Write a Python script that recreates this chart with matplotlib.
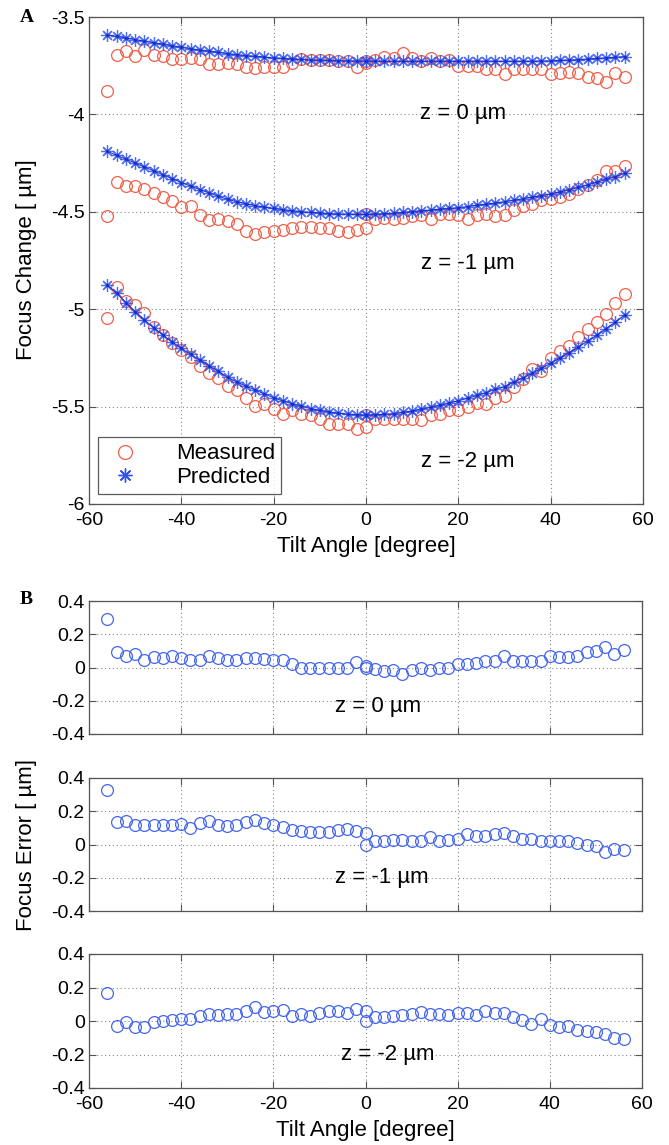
import matplotlib
matplotlib.use("Agg")
import matplotlib.pyplot as plt

plt.rcParams['font.family'] = ['Liberation Sans', 'DejaVu Sans']
plt.rcParams['axes.unicode_minus'] = False

# Tilt angles (deg); the 0 deg position was measured twice
tilt = [-56, -54, -52, -50, -48, -46, -44, -42, -40, -38, -36, -34, -32, -30,
        -28, -26, -24, -22, -20, -18, -16, -14, -12, -10, -8, -6, -4, -2,
        0, 0, 2, 4, 6, 8, 10, 12, 14, 16, 18, 20, 22, 24, 26, 28,
        30, 32, 34, 36, 38, 40, 42, 44, 46, 48, 50, 52, 54, 56]

# Panel A: measured / predicted focus change (um)
meas_z0 = [-3.882, -3.693, -3.675, -3.699, -3.670, -3.695, -3.699, -3.715, -3.715, -3.709,
           -3.716, -3.743, -3.741, -3.734, -3.739, -3.757, -3.761, -3.759, -3.756, -3.759,
           -3.738, -3.718, -3.720, -3.722, -3.723, -3.724, -3.725, -3.758,
           -3.726, -3.736, -3.719, -3.705, -3.709, -3.685, -3.709, -3.727, -3.709, -3.727,
           -3.723, -3.749, -3.749, -3.753, -3.769, -3.769, -3.794, -3.769, -3.765, -3.765,
           -3.768, -3.792, -3.786, -3.784, -3.786, -3.809, -3.812, -3.833, -3.790, -3.810]
pred_z0 = [-3.592, -3.600, -3.608, -3.616, -3.624, -3.632, -3.640, -3.648, -3.656, -3.663,
           -3.670, -3.676, -3.682, -3.688, -3.693, -3.698, -3.702, -3.706, -3.710, -3.713,
           -3.716, -3.718, -3.720, -3.722, -3.723, -3.724, -3.725, -3.726,
           -3.726, -3.726, -3.727, -3.727, -3.727, -3.727, -3.727, -3.727, -3.727, -3.727,
           -3.727, -3.727, -3.727, -3.727, -3.727, -3.727, -3.727, -3.727, -3.727, -3.727,
           -3.726, -3.725, -3.723, -3.721, -3.719, -3.716, -3.713, -3.710, -3.707, -3.703]

meas_z1 = [-4.520, -4.345, -4.370, -4.365, -4.385, -4.405, -4.425, -4.447, -4.475, -4.468,
           -4.516, -4.543, -4.537, -4.545, -4.565, -4.596, -4.615, -4.606, -4.600, -4.594,
           -4.584, -4.579, -4.579, -4.582, -4.585, -4.601, -4.606, -4.593,
           -4.583, -4.513, -4.536, -4.534, -4.535, -4.531, -4.523, -4.515, -4.539, -4.511,
           -4.511, -4.515, -4.537, -4.517, -4.511, -4.519, -4.518, -4.491, -4.469, -4.461,
           -4.441, -4.432, -4.422, -4.411, -4.385, -4.362, -4.338, -4.290, -4.289, -4.267]
pred_z1 = [-4.190, -4.210, -4.230, -4.250, -4.270, -4.290, -4.310, -4.330, -4.350, -4.368,
           -4.386, -4.403, -4.420, -4.436, -4.448, -4.459, -4.468, -4.476, -4.483, -4.489,
           -4.494, -4.499, -4.503, -4.506, -4.509, -4.511, -4.512, -4.513,
           -4.513, -4.513, -4.512, -4.510, -4.507, -4.503, -4.499, -4.495, -4.491, -4.487,
           -4.483, -4.479, -4.473, -4.467, -4.461, -4.455, -4.448, -4.441, -4.433, -4.425,
           -4.417, -4.408, -4.398, -4.387, -4.375, -4.362, -4.348, -4.334, -4.319, -4.303]

meas_z2 = [-5.046, -4.886, -4.960, -4.977, -5.019, -5.089, -5.133, -5.172, -5.210, -5.246,
           -5.292, -5.330, -5.351, -5.392, -5.413, -5.457, -5.497, -5.489, -5.514, -5.537,
           -5.517, -5.538, -5.542, -5.566, -5.588, -5.591, -5.587, -5.616,
           -5.603, -5.543, -5.566, -5.564, -5.564, -5.564, -5.563, -5.568, -5.544, -5.538,
           -5.516, -5.520, -5.503, -5.480, -5.488, -5.458, -5.445, -5.399, -5.357, -5.309,
           -5.318, -5.252, -5.215, -5.191, -5.141, -5.103, -5.066, -5.023, -4.966, -4.923]
pred_z2 = [-4.876, -4.918, -4.966, -5.013, -5.055, -5.095, -5.133, -5.168, -5.200, -5.232,
           -5.262, -5.290, -5.318, -5.350, -5.373, -5.395, -5.415, -5.435, -5.455, -5.471,
           -5.485, -5.498, -5.510, -5.520, -5.528, -5.534, -5.539, -5.542,
           -5.543, -5.543, -5.542, -5.540, -5.536, -5.530, -5.523, -5.514, -5.504, -5.494,
           -5.482, -5.470, -5.457, -5.443, -5.428, -5.412, -5.397, -5.375, -5.353, -5.329,
           -5.304, -5.278, -5.251, -5.223, -5.194, -5.164, -5.133, -5.100, -5.066, -5.030]

# Panel B: focus error (um)
err_z0 = [0.290, 0.093, 0.067, 0.083, 0.046, 0.063, 0.059, 0.067, 0.059, 0.046,
          0.046, 0.067, 0.059, 0.046, 0.046, 0.059, 0.059, 0.053, 0.046, 0.046,
          0.022, 0.000, 0.000, 0.000, 0.000, 0.000, 0.000, 0.032,
          0.000, 0.010, -0.008, -0.022, -0.018, -0.042, -0.018, 0.000, -0.018, 0.000,
          -0.004, 0.022, 0.022, 0.026, 0.042, 0.042, 0.067, 0.042, 0.038, 0.038,
          0.042, 0.067, 0.063, 0.063, 0.067, 0.093, 0.099, 0.123, 0.083, 0.107]
err_z1 = [0.330, 0.135, 0.140, 0.115, 0.115, 0.115, 0.115, 0.117, 0.125, 0.100,
          0.130, 0.140, 0.117, 0.109, 0.117, 0.137, 0.147, 0.130, 0.117, 0.105,
          0.090, 0.080, 0.076, 0.076, 0.076, 0.090, 0.094, 0.080,
          0.070, 0.000, 0.024, 0.024, 0.028, 0.028, 0.024, 0.020, 0.048, 0.024,
          0.028, 0.036, 0.064, 0.050, 0.050, 0.064, 0.070, 0.050, 0.036, 0.036,
          0.024, 0.024, 0.024, 0.024, 0.010, 0.000, -0.010, -0.044, -0.030, -0.036]
err_z2 = [0.170, -0.032, -0.006, -0.036, -0.036, -0.006, 0.000, 0.004, 0.010, 0.014,
          0.030, 0.040, 0.033, 0.042, 0.040, 0.062, 0.082, 0.054, 0.059, 0.066,
          0.032, 0.040, 0.032, 0.046, 0.060, 0.057, 0.048, 0.074,
          0.060, 0.000, 0.024, 0.024, 0.028, 0.034, 0.040, 0.054, 0.040, 0.044,
          0.034, 0.050, 0.046, 0.037, 0.060, 0.046, 0.048, 0.024, 0.004, -0.020,
          0.014, -0.026, -0.036, -0.032, -0.053, -0.061, -0.067, -0.077, -0.100, -0.107]

xticks = [-60, -40, -20, 0, 20, 40, 60]
yticks_a = [-6, -5.5, -5, -4.5, -4, -3.5]
yticks_b = [-0.4, -0.2, 0, 0.2, 0.4]

RED = '#f0604a'
BLUE = '#3355ee'
SPINE = '#555555'

W, H = 669, 1145
fig = plt.figure(figsize=(W / 100, H / 100), dpi=100)


def frac(left, top, right, bottom):
    return [left / W, 1 - bottom / H, (right - left) / W, (bottom - top) / H]


def style(ax, labels_x=True):
    ax.set_xlim(-60, 60)
    ax.set_xticks(xticks)
    ax.grid(True, linestyle=(0, (1, 2.5)), color='#888888', linewidth=0.8)
    ax.tick_params(direction='in', length=5, width=0.8, top=True, right=True,
                   labelsize=14, color=SPINE)
    ax.tick_params(axis='x', pad=6)
    ax.tick_params(axis='y', pad=3)
    for s in ax.spines.values():
        s.set_color(SPINE)
        s.set_linewidth(0.9)
    if not labels_x:
        ax.tick_params(labelbottom=False)


# Panel A
axA = fig.add_axes(frac(89, 17, 643, 504))
style(axA)
axA.set_ylim(-6, -3.5)
axA.set_yticks(yticks_a)
axA.set_yticklabels(['-6', '-5.5', '-5', '-4.5', '-4', '-3.5'])
star = (8, 2, 0)
for meas, pred in [(meas_z0, pred_z0), (meas_z1, pred_z1), (meas_z2, pred_z2)]:
    axA.plot(tilt, meas, linestyle='none', marker='o', markersize=8.5,
             markerfacecolor='none', markeredgecolor=RED, markeredgewidth=0.9)
    axA.plot(tilt, pred, linestyle='none', marker=star, markersize=9,
             markeredgecolor=BLUE, markeredgewidth=0.9, alpha=0.85)
    axA.plot(tilt, pred, linestyle='-', color='#1a2ccc', linewidth=0.7,
             marker='.', markersize=2.5)
hm, = axA.plot([], [], linestyle='none', marker='o', markersize=10,
               markerfacecolor='none', markeredgecolor=RED, markeredgewidth=0.9)
hp, = axA.plot([], [], linestyle='none', marker=star, markersize=10,
               markeredgecolor=BLUE, markeredgewidth=1.0)
leg = axA.legend([hm, hp], ['Measured', 'Predicted'], loc='lower left',
                 bbox_to_anchor=(0.016, 0.02), fontsize=16, frameon=True,
                 fancybox=False, edgecolor='#333333', handletextpad=1.4,
                 borderpad=0.3, labelspacing=0.1, handlelength=1.8,
                 borderaxespad=0)
leg.get_frame().set_linewidth(0.9)
axA.set_xlabel('Tilt Angle [degree]', fontsize=16, labelpad=5)
axA.text(21, -3.993, 'z = 0 \u00b5m', fontsize=16, ha='center', va='center')
axA.text(22, -4.763, 'z = -1 \u00b5m', fontsize=16, ha='center', va='center')
axA.text(22, -5.783, 'z = -2 \u00b5m', fontsize=16, ha='center', va='center')
fig.text(27 / W, 1 - 260 / H, 'Focus Change [ \u00b5m]', rotation=90,
         fontsize=16, ha='center', va='center')
fig.text(20 / W, 1 - 18 / H, 'A', fontsize=14, fontweight='bold',
         family='Liberation Serif', ha='left', va='center')

# Panel B
boxes = [(601, 734), (778, 911), (954, 1088)]
errs = [err_z0, err_z1, err_z2]
btxt = [('z = 0 \u00b5m', 2.7, -0.236), ('z = -1 \u00b5m', 3.5, -0.2),
        ('z = -2 \u00b5m', 4.8, -0.2)]
for i, ((t, b), e, (lab, lx, ly)) in enumerate(zip(boxes, errs, btxt)):
    ax = fig.add_axes(frac(89, t, 642, b))
    style(ax, labels_x=(i == 2))
    ax.set_ylim(-0.4, 0.4)
    ax.set_yticks(yticks_b)
    ax.set_yticklabels(['-0.4', '-0.2', '0', '0.2', '0.4'])
    ax.plot(tilt, e, linestyle='none', marker='o', markersize=8.5,
            markerfacecolor='none', markeredgecolor='#4466ee',
            markeredgewidth=0.9)
    ax.text(lx, ly, lab, fontsize=16, ha='center', va='center')
    if i == 2:
        ax.set_xlabel('Tilt Angle [degree]', fontsize=16, labelpad=5)

fig.text(27 / W, 1 - 845 / H, 'Focus Error [ \u00b5m]', rotation=90,
         fontsize=16, ha='center', va='center')
fig.text(20 / W, 1 - 600 / H, 'B', fontsize=14, fontweight='bold',
         family='Liberation Serif', ha='left', va='center')

fig.savefig('out.png', dpi=100)
